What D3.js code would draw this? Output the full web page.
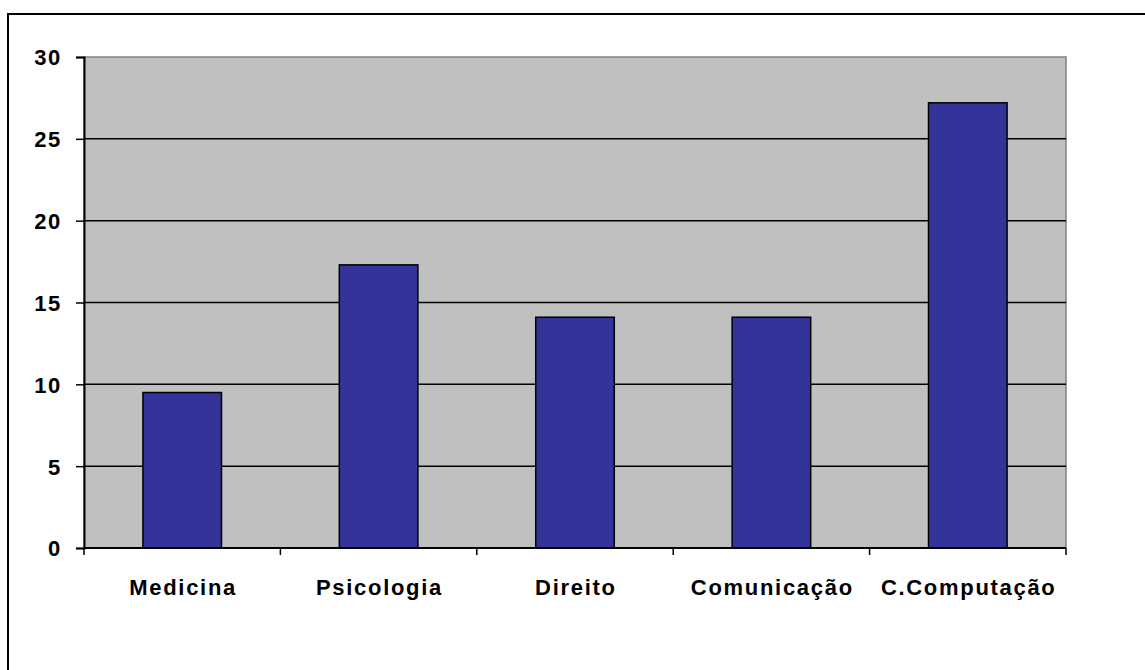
<!DOCTYPE html>
<html>
<head>
<meta charset="utf-8">
<script src="https://cdn.jsdelivr.net/npm/d3@7"></script>
<style>
  body { margin: 0; background: #fff; }
  text { font-family: "Liberation Sans", Arial, sans-serif; font-weight: bold; }
</style>
</head>
<body>
<div id="chart"></div>
<script>
const categories = ["Medicina", "Psicologia", "Direito", "Comunicação", "C.Computação"];
const values = [9.5, 17.3, 14.1, 14.1, 27.2];
const yTicks = [0, 5, 10, 15, 20, 25, 30];

const W = 1145, H = 670;
const margin = {top: 57, right: 79, bottom: 122, left: 84},
    width = W - margin.left - margin.right,
    height = H - margin.top - margin.bottom;

const root = d3.select("#chart")
    .append("svg")
    .attr("width", W)
    .attr("height", H);

// outer frame (runs off the right and bottom of the picture)
root.append("rect")
    .attr("x", 8).attr("y", 14)
    .attr("width", W + 20).attr("height", H + 20)
    .attr("fill", "none")
    .attr("stroke", "#000")
    .attr("stroke-width", 2);

const svg = root.append("g")
    .attr("transform", "translate(" + margin.left + "," + margin.top + ")");

const x = d3.scaleBand()
    .domain(categories)
    .range([0, width])
    .paddingInner(0.6)
    .paddingOuter(0.3);
const y = d3.scaleLinear()
    .domain([0, 30])
    .range([height, 0]);

// plot background
svg.append("rect")
    .attr("width", width)
    .attr("height", height)
    .attr("fill", "#c0c0c0")
    .attr("stroke", "#808080")
    .attr("stroke-width", 1.5);

// gridlines
svg.append("g")
    .selectAll("line")
    .data(yTicks.filter(d => d > 0 && d < 30))
    .enter().append("line")
    .attr("x1", 0).attr("x2", width)
    .attr("y1", d => y(d)).attr("y2", d => y(d))
    .attr("stroke", "#000")
    .attr("stroke-width", 1.5);

// bars
svg.selectAll(".bar")
    .data(values)
    .enter().append("rect")
    .attr("class", "bar")
    .attr("x", (d, i) => x(categories[i]))
    .attr("width", x.bandwidth())
    .attr("y", d => y(d))
    .attr("height", d => height - y(d))
    .attr("fill", "#333399")
    .attr("stroke", "#000")
    .attr("stroke-width", 1.5);

// y axis
const yAxis = svg.append("g")
    .call(d3.axisLeft(y).tickValues(yTicks).tickSize(8).tickPadding(14));
yAxis.select(".domain").attr("stroke", "#000").attr("stroke-width", 2);
yAxis.selectAll(".tick line").attr("stroke", "#000").attr("stroke-width", 1.5);
yAxis.selectAll(".tick text")
    .attr("font-size", 22)
    .attr("font-family", "Liberation Sans, Arial, sans-serif")
    .attr("font-weight", "bold")
    .attr("fill", "#000")
    .attr("letter-spacing", 1.7)
    .attr("dy", "0.36em");

// x axis: ticks sit on the category boundaries
const boundaries = d3.range(categories.length + 1).map(i => i * width / categories.length);
const xAxis = svg.append("g")
    .attr("transform", "translate(0," + height + ")");
xAxis.append("line")
    .attr("x1", 0).attr("x2", width)
    .attr("stroke", "#000")
    .attr("stroke-width", 2);
xAxis.selectAll(".xtick")
    .data(boundaries)
    .enter().append("line")
    .attr("class", "xtick")
    .attr("x1", d => d).attr("x2", d => d)
    .attr("y1", 0).attr("y2", 7)
    .attr("stroke", "#000")
    .attr("stroke-width", 1.5);
xAxis.selectAll(".xlabel")
    .data(categories)
    .enter().append("text")
    .attr("class", "xlabel")
    .attr("x", d => x(d) + x.bandwidth() / 2 + 0.9)
    .attr("y", 47)
    .attr("text-anchor", "middle")
    .attr("font-size", 22)
    .attr("letter-spacing", 1.7)
    .attr("fill", "#000")
    .text(d => d);
</script>
</body>
</html>
